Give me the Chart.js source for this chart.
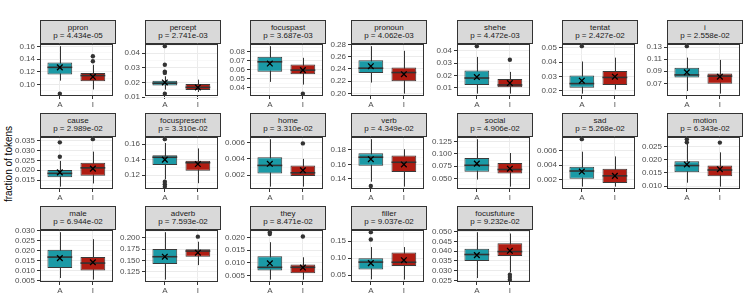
<!DOCTYPE html>
<html>
<head>
<meta charset="utf-8">
<script src="https://cdn.jsdelivr.net/npm/chart.js@4.4.1/dist/chart.umd.min.js"></script>
<style>
  body { margin: 0; background: #fff; font-family: "Liberation Sans", Arial, sans-serif; }
  #wrap { position: relative; width: 747px; height: 299px; overflow: hidden; }
  .strip {
    position: absolute; box-sizing: border-box; width: 76px; height: 24px;
    background: #d9d9d9; border: 1px solid #333; color: #1a1a1a;
    font-size: 8px; line-height: 8.5px; text-align: center; padding-top: 2.5px;
  }
  canvas { position: absolute; }
  #ylab {
    position: absolute; left: 8px; top: 164px; transform: translate(-50%, -50%) rotate(-90deg);
    font-size: 10px; color: #000; white-space: nowrap;
  }
</style>
</head>
<body>
<div id="wrap"><div id="ylab">fraction of tokens</div></div>
<script>
const features = ['ppron', 'percept', 'focuspast', 'pronoun', 'shehe', 'tentat', 'i',
  'cause', 'focuspresent', 'home', 'verb', 'social', 'sad', 'motion',
  'male', 'adverb', 'they', 'filler', 'focusfuture'];
const pValues = ['4.434e-05', '2.741e-03', '3.687e-03', '4.062e-03', '4.472e-03', '2.427e-02', '2.558e-02',
  '2.989e-02', '3.310e-02', '3.310e-02', '4.349e-02', '4.906e-02', '5.268e-02', '6.343e-02',
  '6.944e-02', '7.593e-02', '8.471e-02', '9.037e-02', '9.232e-02'];
const groups = ['A', 'I'];
const yTickLabels = [
  ['0.10', '0.12', '0.14', '0.16'],
  ['0.01', '0.02', '0.03', '0.04'],
  ['0.04', '0.05', '0.06', '0.07', '0.08'],
  ['0.20', '0.22', '0.24', '0.26', '0.28'],
  ['0.01', '0.02', '0.03', '0.04'],
  ['0.02', '0.03', '0.04', '0.05'],
  ['0.07', '0.09', '0.11', '0.13'],
  ['0.015', '0.020', '0.025', '0.030', '0.035'],
  ['0.12', '0.14', '0.16'],
  ['0.002', '0.004', '0.006'],
  ['0.14', '0.16', '0.18'],
  ['0.050', '0.075', '0.100', '0.125'],
  ['0.002', '0.004', '0.006'],
  ['0.010', '0.015', '0.020', '0.025'],
  ['0.005', '0.010', '0.015', '0.020', '0.025', '0.030'],
  ['0.125', '0.150', '0.175', '0.200'],
  ['0.005', '0.010', '0.015', '0.020'],
  ['0.05', '0.10', '0.15'],
  ['0.025', '0.030', '0.035', '0.040', '0.045', '0.050']
];

// [lower whisker, q1, median, q3, upper whisker, mean]
const statsA = [
  [0.106, 0.1156, 0.127, 0.1346, 0.1605, 0.127],
  [0.0151, 0.0179, 0.0195, 0.0212, 0.0242, 0.0200],
  [0.0467, 0.058, 0.0689, 0.0744, 0.0862, 0.067],
  [0.2176, 0.2333, 0.2411, 0.254, 0.2771, 0.2444],
  [0.005, 0.0121, 0.0178, 0.0239, 0.0351, 0.0186],
  [0.018, 0.0221, 0.025, 0.0307, 0.0404, 0.027],
  [0.0573, 0.0796, 0.084, 0.0958, 0.1126, 0.0883],
  [0.0117, 0.0164, 0.0184, 0.0201, 0.0247, 0.0189],
  [0.1147, 0.1332, 0.143, 0.1455, 0.1613, 0.14],
  [0.0006, 0.0022, 0.0032, 0.0042, 0.00642, 0.0034],
  [0.1363, 0.1584, 0.17, 0.1755, 0.1948, 0.1672],
  [0.048, 0.0637, 0.0769, 0.0917, 0.1297, 0.0803],
  [0.001, 0.0021, 0.00317, 0.00377, 0.00586, 0.0031],
  [0.0113, 0.0153, 0.0178, 0.0194, 0.026, 0.0182],
  [0.0063, 0.0113, 0.0168, 0.0205, 0.0293, 0.0163],
  [0.1075, 0.1417, 0.158, 0.175, 0.2121, 0.158],
  [0.0033, 0.0069, 0.0082, 0.0126, 0.0182, 0.0098],
  [0.0378, 0.0669, 0.0884, 0.1, 0.1326, 0.0855],
  [0.0263, 0.035, 0.0383, 0.0413, 0.0497, 0.038]
];
const statsI = [
  [0.092, 0.105, 0.114, 0.118, 0.131, 0.112],
  [0.0135, 0.0148, 0.0167, 0.0190, 0.0219, 0.0166],
  [0.0437, 0.055, 0.0597, 0.066, 0.0733, 0.0597],
  [0.1995, 0.2197, 0.234, 0.2421, 0.2695, 0.2312],
  [0.005, 0.0102, 0.0121, 0.017, 0.0228, 0.0137],
  [0.0209, 0.0241, 0.0293, 0.0338, 0.0431, 0.0298],
  [0.053, 0.0695, 0.082, 0.0863, 0.1088, 0.081],
  [0.0133, 0.0172, 0.0212, 0.0238, 0.0294, 0.0208],
  [0.1097, 0.1258, 0.136, 0.1385, 0.1543, 0.1343],
  [0.0006, 0.0019, 0.0023, 0.0032, 0.0040, 0.0026],
  [0.1295, 0.1497, 0.163, 0.1722, 0.181, 0.16],
  [0.0337, 0.0603, 0.0683, 0.0817, 0.1017, 0.07],
  [0.001, 0.0015, 0.0025, 0.0035, 0.0052, 0.0025],
  [0.0098, 0.0137, 0.0161, 0.0178, 0.0228, 0.0164],
  [0.0055, 0.0101, 0.0138, 0.0168, 0.0258, 0.0142],
  [0.1395, 0.158, 0.1705, 0.1743, 0.191, 0.1668],
  [0.0033, 0.0058, 0.0082, 0.0093, 0.0122, 0.0081],
  [0.0369, 0.0773, 0.088, 0.1163, 0.1326, 0.094],
  [0.0292, 0.0375, 0.0398, 0.044, 0.049, 0.0402]
];
const outliersA = [
  [0.0854], [0.0447, 0.0321, 0.0274, 0.0265, 0.0124], [], [], [0.0439], [0.0511], [0.1316],
  [0.0341, 0.0268], [0.1662, 0.1117, 0.1083, 0.1053], [], [0.1303], [], [0.0076], [0.0278, 0.0266],
  [], [], [0.0222, 0.0215], [0.1764, 0.155], []
];
const outliersI = [
  [0.1446, 0.1367], [], [0.0337], [], [0.0328], [], [],
  [0.0357], [], [0.0059], [], [], [], [0.0265],
  [], [0.2022], [0.0205], [], [0.028, 0.0268, 0.0255]
];

const fills = ['#1b9aa6', '#b01c12'];
const panelLeft = [40, 145, 250, 351, 457, 562, 667];
const plotTop = [43, 136, 229];
const PW = 76, PH = 53, YW = 42, PADT = 6, PADR = 2, XH = 16;

Chart.defaults.font.family = '"Liberation Sans", Arial, sans-serif';
Chart.defaults.font.size = 8;
Chart.defaults.color = '#4d4d4d';

// whiskers, medians and the panel frame
function boxParts(stats) {
  return {
    id: 'boxParts',
    beforeDatasetsDraw(chart) {
      const { ctx, scales: { x, y } } = chart;
      ctx.save();
      ctx.strokeStyle = '#333';
      ctx.lineWidth = 1;
      stats.forEach((st, i) => {
        const px = Math.round(x.getPixelForValue(i + 1)) + 0.5;
        ctx.beginPath();
        ctx.moveTo(px, y.getPixelForValue(st[0]));
        ctx.lineTo(px, y.getPixelForValue(st[4]));
        ctx.stroke();
      });
      ctx.restore();
    },
    afterDatasetDraw(chart, args) {
      if (args.index !== 0) return;
      const { ctx, scales: { y } } = chart;
      ctx.save();
      ctx.strokeStyle = '#333';
      ctx.lineWidth = 1.6;
      args.meta.data.forEach((bar, i) => {
        const py = y.getPixelForValue(stats[i][2]);
        ctx.beginPath();
        ctx.moveTo(bar.x - bar.width / 2, py);
        ctx.lineTo(bar.x + bar.width / 2, py);
        ctx.stroke();
      });
      ctx.restore();
    },
    afterDraw(chart) {
      const { ctx, chartArea: a } = chart;
      ctx.save();
      ctx.strokeStyle = '#333';
      ctx.lineWidth = 1;
      ctx.strokeRect(Math.round(a.left) + 0.5, Math.round(a.top) + 0.5,
        Math.round(a.width) - 1, Math.round(a.height) - 1);
      ctx.restore();
    }
  };
}

const wrap = document.getElementById('wrap');

features.forEach((name, k) => {
  const col = k % 7, row = Math.floor(k / 7);
  const left = panelLeft[col], top = plotTop[row];

  const strip = document.createElement('div');
  strip.className = 'strip';
  strip.style.left = left + 'px';
  strip.style.top = (top - 23) + 'px';
  strip.innerHTML = name + '<br>p = ' + pValues[k];
  wrap.appendChild(strip);

  const cv = document.createElement('canvas');
  cv.width = YW + PW + PADR;
  cv.height = PADT + PH + XH;
  cv.style.left = (left - YW) + 'px';
  cv.style.top = (top - PADT) + 'px';
  wrap.appendChild(cv);

  const stats = [statsA[k], statsI[k]];
  const all = stats.flat().concat(outliersA[k], outliersI[k]);
  const lo = Math.min(...all), hi = Math.max(...all);
  const yMin = lo - (hi - lo) * 0.05, yMax = hi + (hi - lo) * 0.05;

  const majors = yTickLabels[k].map(Number);
  const step = majors[1] - majors[0];
  const minors = [majors[0] - step / 2].concat(majors.map(v => v + step / 2));
  const ticks = majors.map(v => ({ value: v, major: true }))
    .concat(minors.filter(v => v > yMin && v < yMax).map(v => ({ value: v, major: false })))
    .sort((a, b) => a.value - b.value);
  const labelFor = v => {
    const j = majors.findIndex(m => Math.abs(m - v) < step * 1e-6);
    return j < 0 ? '' : yTickLabels[k][j];
  };
  const isMajor = v => majors.some(m => Math.abs(m - v) < step * 1e-6);

  new Chart(cv, {
    type: 'bar',
    data: {
      datasets: [
        {
          data: stats.map((st, i) => ({ x: i + 1, y: [st[1], st[3]] })),
          backgroundColor: fills,
          borderColor: '#3a3a3a',
          borderWidth: 1,
          borderSkipped: false,
          barPercentage: 0.75,
          categoryPercentage: 1,
          order: 3
        },
        {
          type: 'scatter',
          data: outliersA[k].map(v => ({ x: 1, y: v })).concat(outliersI[k].map(v => ({ x: 2, y: v }))),
          pointRadius: 2.2,
          pointBackgroundColor: '#333',
          pointBorderWidth: 0,
          order: 2
        },
        {
          type: 'scatter',
          data: stats.map((st, i) => ({ x: i + 1, y: st[5] })),
          pointStyle: 'crossRot',
          pointRadius: 4,
          borderColor: '#000',
          pointBorderWidth: 1.3,
          order: 1
        }
      ]
    },
    options: {
      responsive: false,
      animation: false,
      events: [],
      layout: { padding: { top: PADT, right: PADR, left: 0, bottom: 0 } },
      plugins: { legend: { display: false }, tooltip: { enabled: false } },
      scales: {
        x: {
          type: 'linear', min: 0.4, max: 2.6, offset: false,
          afterBuildTicks: s => { s.ticks = [{ value: 1 }, { value: 2 }]; },
          afterFit: s => { s.height = XH; },
          ticks: { autoSkip: false, maxRotation: 0, padding: 1, callback: v => groups[v - 1] },
          grid: { offset: false, color: '#ebebeb', lineWidth: 1, tickColor: '#333', tickLength: 3 },
          border: { display: false }
        },
        y: {
          type: 'linear', min: yMin, max: yMax,
          afterBuildTicks: s => { s.ticks = ticks.map(t => ({ value: t.value })); },
          afterFit: s => { s.width = YW; },
          ticks: { autoSkip: false, padding: 2, callback: v => labelFor(v) },
          grid: {
            color: c => isMajor(c.tick.value) ? '#ebebeb' : '#f4f4f4',
            lineWidth: c => isMajor(c.tick.value) ? 1 : 0.6,
            tickColor: c => isMajor(c.tick.value) ? '#333' : 'rgba(0,0,0,0)',
            tickWidth: 1,
            tickLength: 3
          },
          border: { display: false }
        }
      }
    },
    plugins: [boxParts(stats)]
  });
});
</script>
</body>
</html>
